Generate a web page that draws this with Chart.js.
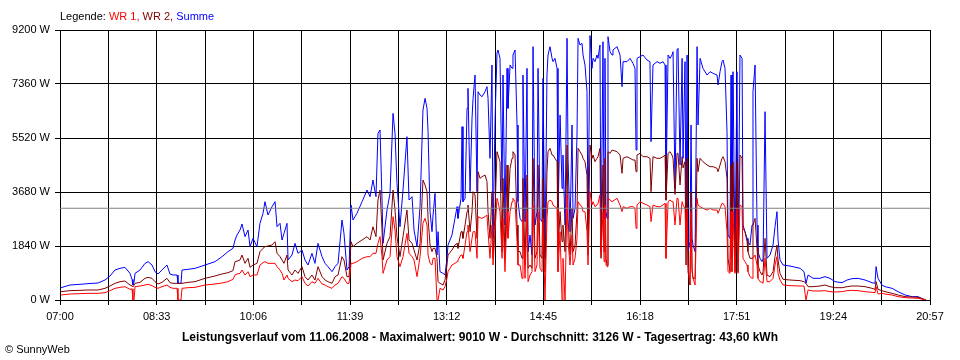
<!DOCTYPE html>
<html>
<head>
<meta charset="utf-8">
<script src="https://cdn.jsdelivr.net/npm/chart.js@4.4.1/dist/chart.umd.min.js"></script>
<style>
  html, body { margin: 0; padding: 0; background: #ffffff; }
  #wrap { position: relative; width: 960px; height: 360px; overflow: hidden; font-family: "Liberation Sans", Arial, sans-serif; color: #000; }
  #chart { position: absolute; left: 0; top: 0; }
  #legend { position: absolute; left: 60px; top: 10px; font-size: 11px; line-height: 13px; white-space: nowrap; }
  #footer { position: absolute; left: 0; top: 330px; width: 960px; text-align: center; font-size: 12px; line-height: 14px; font-weight: bold; white-space: nowrap; }
  #copy { position: absolute; left: 5px; top: 343px; font-size: 11px; line-height: 13px; white-space: nowrap; }
</style>
</head>
<body>
<div id="wrap">
  <canvas id="chart" width="960" height="360"></canvas>
  <div id="legend">Legende: <span style="color:#ff0000">WR 1,</span> <span style="color:#800000">WR 2,</span> <span style="color:#0000ff">Summe</span></div>
  <div id="footer">Leistungsverlauf vom 11.06.2008 - Maximalwert: 9010 W - Durchschnitt: 3126 W - Tagesertrag: 43,60 kWh</div>
  <div id="copy">© SunnyWeb</div>
</div>
<script>
// ---- data (minutes after 07:00, power in W) ----
const xTickLabels = ['07:00','08:33','10:06','11:39','13:12','14:45','16:18','17:51','19:24','20:57'];
const yTickValues = [0, 1840, 3680, 5520, 7360, 9200];
const durchschnitt = 3126;

const minutes = [
1.0,9.6,19.2,26.9,36.6,43.3,48.1,52.9,57.7,62.5,
67.3,69.3,70.2,71.2,72.2,77.0,81.8,84.7,88.5,91.4,
94.3,98.1,102.9,105.8,108.7,112.6,113.5,115.4,116.4,117.4,
123.1,129.9,139.5,149.1,155.9,161.6,166.4,168.4,170.3,173.2,
175.1,178.0,180.9,182.8,185.7,189.5,192.4,195.3,197.2,200.1,
204.0,206.9,208.8,211.7,213.6,215.5,218.4,219.4,223.2,226.1,
229.0,232.8,235.7,238.6,242.4,245.3,248.2,252.1,255.0,257.8,
261.7,264.6,267.5,271.3,273.2,276.1,278.1,280.0,281.9,285.7,
290.6,295.4,298.3,301.1,304.0,305.9,307.9,309.8,310.8,314.6,
317.5,320.4,322.3,324.2,327.1,330.0,333.8,335.8,338.7,340.6,
343.5,346.4,349.2,351.2,353.1,354.1,356.0,357.9,358.9,360.8,
362.7,363.7,365.6,368.5,370.4,372.3,373.3,377.1,380.0,382.0,
382.9,385.8,386.8,387.7,389.7,391.6,392.5,394.5,396.4,397.4,
399.3,401.2,402.2,404.1,406.0,408.9,410.8,411.8,413.7,415.6,
416.6,418.5,420.4,421.4,423.3,425.3,426.2,428.1,430.1,431.0,
433.0,434.9,435.8,437.8,439.7,440.6,442.6,444.5,445.4,447.4,
449.3,450.3,452.2,454.1,455.1,457.0,458.9,459.9,461.8,463.7,
464.7,466.6,468.5,469.5,471.4,473.4,474.3,476.2,478.2,479.1,
481.1,483.0,483.9,485.9,487.8,488.8,490.7,492.6,493.6,495.5,
497.4,498.4,500.3,502.2,503.2,505.1,507.0,508.0,509.9,511.8,
512.8,514.7,516.6,517.6,519.5,520.5,522.4,523.4,524.3,525.3,
526.3,527.2,529.2,531.1,532.0,535.9,538.8,540.7,541.7,545.5,
548.4,551.3,553.2,554.2,555.1,558.0,560.9,564.7,567.6,568.6,
570.5,574.4,577.3,580.1,582.1,583.0,585.0,586.9,588.8,589.8,
591.7,593.6,594.6,596.5,598.5,599.4,601.3,602.3,603.3,604.2,
606.1,607.1,608.1,609.0,611.0,612.9,613.8,615.8,618.6,622.5,
625.4,628.3,632.1,633.1,635.0,636.9,637.9,639.8,641.7,642.7,
644.6,645.6,646.5,647.5,649.4,651.3,652.3,654.2,656.2,657.1,
659.0,661.0,661.9,663.8,665.8,666.7,668.7,670.6,671.5,673.5,
675.4,676.4,678.3,680.2,683.1,686.0,687.9,689.8,690.8,692.7,
695.6,702.3,712.0,715.8,717.7,719.7,724.5,731.2,736.0,740.8,
745.6,752.4,757.2,762.0,767.7,774.5,781.2,784.1,785.1,787.0,
790.8,793.8,800.5,806.3,813.0,819.8,825.5,830.3,833.2
];

const wr1 = [
170,204,216,227,227,250,318,398,431,454,
363,380,0,0,454,477,511,534,488,431,
398,454,511,431,398,398,0,0,0,398,
420,431,511,545,579,625,704,852,886,909,
1022,852,965,795,852,851,1192,1272,1306,1249,
1249,1249,1136,1022,908,681,851,738,624,681,
658,795,568,477,624,568,738,545,511,454,
397,511,568,795,738,568,568,1249,1249,1306,
1419,1476,1476,1590,1590,1930,2157,1476,908,1363,
1476,2839,2385,1476,1136,1476,2271,1590,1476,1363,
795,1476,2612,2782,2555,1533,1249,1193,1420,1420,
0,0,397,341,454,738,965,1193,1249,1306,
1363,1533,1533,1420,1874,2328,2555,1647,2101,2328,
2328,1420,2839,2805,2782,2839,2896,2328,1420,2555,
1193,2328,3464,3350,3010,1420,2782,965,3010,2101,
3010,3350,3464,3350,1987,1193,1193,738,2782,738,
3010,624,852,965,3237,965,1193,3010,1079,965,
2782,0,2782,3350,3407,3350,3237,3180,3123,965,
2328,0,1420,0,3577,1987,1193,2214,1193,1420,
2101,3350,3237,3180,3010,3010,2328,1193,3691,3237,
3350,3180,3237,3293,3577,1533,3010,1306,3237,1193,
1136,3464,3407,3350,3350,3464,3237,3010,3180,3123,
3180,3180,3123,2442,3237,3350,3293,3237,3180,2669,
3237,3180,3180,3237,3293,1420,3350,3407,3350,3350,
2555,3464,3464,2555,3350,3237,3123,1874,3123,1193,
511,3010,965,738,511,3464,3237,3180,3123,3066,
3123,3066,3066,2953,3123,3293,3293,3180,2328,965,
908,3010,965,3010,908,3123,908,3237,3180,1420,
1306,1193,965,795,738,1420,1533,1193,738,624,
602,568,1420,624,624,738,1193,1476,909,681,
511,488,477,477,0,341,307,307,318,284,
273,284,318,329,318,284,261,250,454,204,
227,204,170,114,80,68,57,23,0
];

const wr2 = [
284,318,329,341,341,398,477,568,625,647,
511,480,454,500,568,602,738,772,738,625,
545,602,738,590,568,568,568,568,568,568,
602,625,738,818,886,931,1000,1306,1325,1363,
1533,1249,1420,1113,1192,1249,1646,1760,1817,1840,
1874,1987,1590,1476,1363,1249,1533,1022,851,1022,
908,1136,795,681,851,681,1136,795,681,624,
568,795,851,1476,1363,795,795,1987,1817,1930,
2044,2157,2044,2498,2157,3407,3748,2385,1363,1930,
2157,3748,3066,2157,1476,2157,3066,2044,1930,1703,
1363,1930,4088,3918,3691,2782,1874,1647,1760,1760,
1420,624,568,511,681,1192,1533,1703,1874,1930,
1760,2328,2328,2101,2555,3010,3237,2328,3010,3691,
3577,2101,4372,4145,4202,4259,4032,3010,2101,3691,
1420,3010,5054,4940,4713,1647,4145,1420,4600,3010,
4486,4827,5054,4940,2555,1647,1647,1420,4145,1192,
4259,1079,1192,1079,4827,1420,1647,4600,1533,1420,
4145,965,4372,5054,5167,4940,4940,4827,4713,1647,
3010,1987,2555,1647,5281,2782,1533,3123,1647,1874,
3010,5167,5054,4940,4827,4713,4259,1533,5281,4827,
4940,4713,4827,4883,5167,1420,4600,1647,4827,1420,
1192,5054,4997,5110,5110,5054,4940,4316,4827,4883,
4827,4770,4770,4372,4940,4997,4883,4883,4827,3691,
4883,4827,4827,4883,4940,3400,4997,5054,4940,4827,
3600,4997,4997,3918,4883,4500,4713,1192,4827,965,
511,3691,1079,738,738,4827,4372,4827,4713,4600,
4543,4543,4486,4372,4600,4827,4883,4713,4145,1420,
965,4600,1420,4713,965,4713,965,4940,4827,2442,
2328,1987,1647,1420,1420,2555,2782,1760,1192,965,
852,965,2101,852,795,965,1476,1874,1363,909,
704,681,659,625,568,454,454,477,511,454,
420,420,454,477,477,454,398,363,625,363,
318,284,227,170,114,102,91,34,0
];

const summe = [
419,511,534,557,579,681,818,1022,1079,1113,
909,700,511,600,909,1022,1249,1306,1192,965,
886,1022,1192,886,852,852,568,568,568,1022,
1045,1079,1192,1306,1476,1647,1760,2044,2215,2385,
2590,2158,2385,1817,2100,1817,2612,2953,3350,2896,
3180,3350,2498,2612,2044,2271,2612,1363,1533,1930,
1590,1703,1363,1192,1590,1249,1930,1476,1249,1136,
965,1136,1249,2725,2271,1022,1136,3237,2725,2953,
3350,3748,3520,4088,3520,5679,5792,3407,1930,3066,
3634,6360,5679,3975,2498,3748,5565,3407,3520,2385,
1817,3180,6473,6871,6531,5735,3010,2328,2896,3634,
1533,2328,965,908,852,1420,1874,2214,2782,3180,
2782,3464,5906,3350,3464,6531,7212,3691,6190,6871,
7666,3691,7098,6985,6928,7098,7269,6871,4827,8007,
2101,6076,8405,8518,8234,3691,7666,2555,7893,6531,
8007,7893,8348,8518,5963,3350,2782,2669,7666,2669,
7893,1647,2214,1533,8632,2555,3010,7893,2782,2669,
7553,1420,7666,8348,8632,8234,8121,8234,7893,2782,
6303,3805,4940,2555,8916,4827,2328,5963,2782,3123,
5622,8916,8688,8745,8348,8007,7098,2555,9010,7893,
8234,8121,8348,8234,8688,1647,8802,2782,8234,3010,
2782,8972,8461,8348,8518,8632,8348,7269,8121,8121,
8234,8064,7893,5110,8234,8291,8348,8177,8121,5395,
8007,8121,8064,8121,8007,3691,8348,8234,8348,8461,
3805,8518,8575,4600,8234,4827,8121,2101,8348,1647,
1987,5963,2101,1874,1647,8632,5963,8234,7893,7666,
7780,7723,7666,7326,7780,8121,8177,7893,5735,2214,
2101,7666,2101,7780,1420,7780,1192,8348,8234,2555,
2328,2101,1987,1874,2555,7098,8007,2555,1647,1420,
1306,1420,6417,1420,1533,1874,2499,3010,2044,1363,
1193,1158,1079,965,568,852,738,738,795,738,
625,590,681,727,738,681,590,568,1136,738,
511,454,398,284,170,114,114,34,0
];

// ---- derived axis helpers ----
function toMin(s) { const p = s.split(':'); return (+p[0]) * 60 + (+p[1]); }
const startMin = toMin(xTickLabels[0]);
const labelMins = xTickLabels.map(s => toMin(s) - startMin);
const gridMins = [];
labelMins.forEach((m, i) => {
  gridMins.push(m);
  if (i < labelMins.length - 1) gridMins.push((m + labelMins[i + 1]) / 2);
});
const totalMin = labelMins[labelMins.length - 1];

const pts = arr => minutes.map((m, i) => ({ x: m, y: arr[i] }));
const font = { family: '"Liberation Sans", Arial, sans-serif', size: 11 };

new Chart(document.getElementById('chart'), {
  type: 'line',
  data: {
    datasets: [
      { label: 'Durchschnitt', data: [{ x: 0, y: durchschnitt }, { x: totalMin, y: durchschnitt }], borderColor: '#808080' },
      { label: 'WR 1', data: pts(wr1), borderColor: '#ff0000' },
      { label: 'WR 2', data: pts(wr2), borderColor: '#800000' },
      { label: 'Summe', data: pts(summe), borderColor: '#0000ff' }
    ]
  },
  options: {
    responsive: false,
    animation: false,
    events: [],
    elements: {
      point: { radius: 0, hoverRadius: 0 },
      line: { borderWidth: 1, tension: 0, fill: false, borderJoinStyle: 'bevel' }
    },
    layout: { padding: { left: 0, right: 30, top: 30, bottom: 0 } },
    plugins: { legend: { display: false }, tooltip: { enabled: false }, title: { display: false } },
    scales: {
      x: {
        type: 'linear',
        min: 0,
        max: totalMin,
        afterBuildTicks: axis => { axis.ticks = gridMins.map(v => ({ value: v })); },
        afterFit: axis => { axis.height = 60; },
        ticks: {
          autoSkip: false, maxRotation: 0, minRotation: 0, color: '#000', font: font, padding: 5,
          callback: (v, i) => (i % 2 === 0 ? xTickLabels[i / 2] : '')
        },
        grid: { color: '#000', lineWidth: 1, tickLength: 5, drawTicks: true },
        border: { color: '#000', width: 1 }
      },
      y: {
        min: 0,
        max: yTickValues[yTickValues.length - 1],
        afterBuildTicks: axis => { axis.ticks = yTickValues.map(v => ({ value: v })); },
        afterFit: axis => { axis.width = 60; },
        ticks: { color: '#000', font: font, padding: 5, callback: v => v + ' W' },
        grid: { color: '#000', lineWidth: 1, tickLength: 5, drawTicks: true },
        border: { color: '#000', width: 1 }
      }
    }
  }
});
</script>
</body>
</html>
